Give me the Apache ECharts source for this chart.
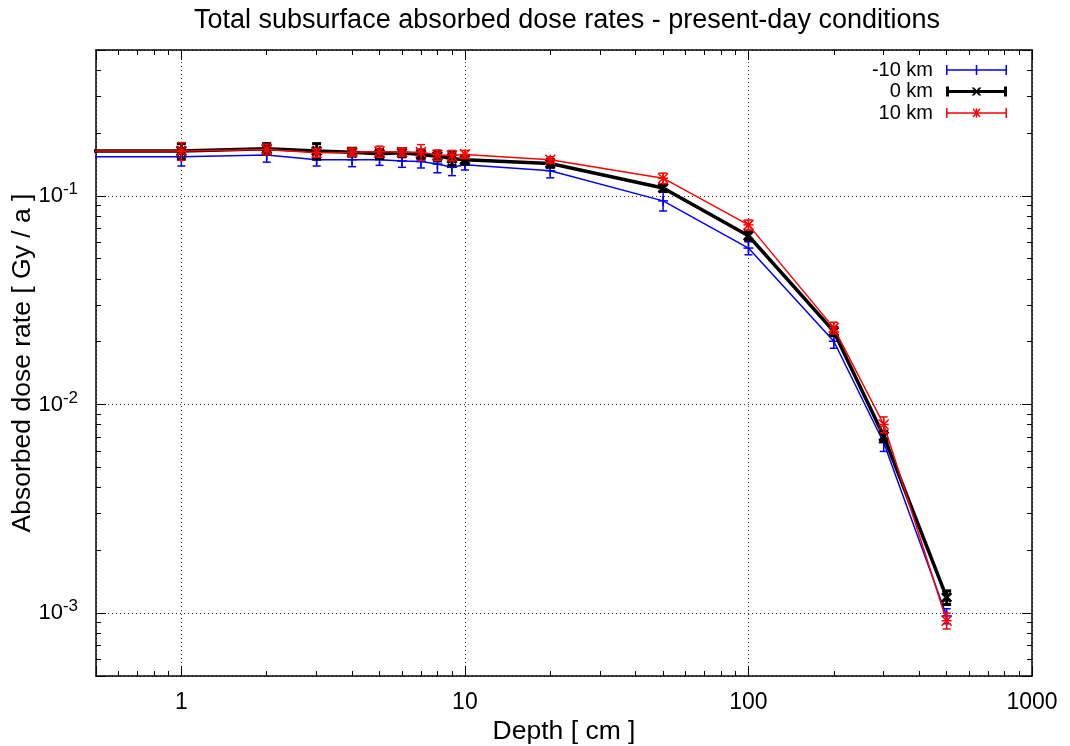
<!DOCTYPE html>
<html>
<head>
<meta charset="utf-8">
<script src="https://cdn.jsdelivr.net/npm/echarts@6/dist/echarts.min.js"></script>
<style>html,body{margin:0;padding:0;background:#fff;}#c{width:1070px;height:746px;}</style>
</head>
<body>
<div id="c"></div>
<script>
// ---- data ----
var depths = [0.1, 1, 2, 3, 4, 5, 6, 7, 8, 9, 10, 20, 50, 100, 200, 300, 500];
var doseM10 = [0.154, 0.154, 0.157, 0.149, 0.149, 0.149, 0.147, 0.146, 0.142, 0.137, 0.141, 0.132, 0.0946, 0.0562, 0.0201, 0.00656, 0.00097];
var errM10  = [0.015, 0.015, 0.012, 0.010, 0.011, 0.009, 0.010, 0.010, 0.013, 0.012, 0.008, 0.010, 0.010, 0.004, 0.0015, 0.0006, 0.00008];
var dose0   = [0.164, 0.164, 0.168, 0.164, 0.162, 0.159, 0.161, 0.158, 0.155, 0.151, 0.149, 0.143, 0.109, 0.0644, 0.0224, 0.00705, 0.00119];
var err0    = [0.014, 0.014, 0.010, 0.014, 0.007, 0.008, 0.007, 0.008, 0.008, 0.011, 0.007, 0.006, 0.004, 0.003, 0.001, 0.0004, 0.00009];
var doseP10 = [0.164, 0.164, 0.167, 0.161, 0.162, 0.163, 0.162, 0.162, 0.157, 0.156, 0.158, 0.149, 0.1215, 0.0726, 0.0233, 0.00802, 0.00092];
var errP10  = [0.016, 0.016, 0.010, 0.008, 0.007, 0.010, 0.007, 0.014, 0.009, 0.009, 0.007, 0.005, 0.007, 0.004, 0.0015, 0.0007, 0.00008];
var seriesNames = ['-10 km', '0 km', '10 km'];
var xTickValues = [1, 10, 100, 1000];
var yTickExponents = [-3, -2, -1];

var FONT = '"Liberation Sans", Arial, sans-serif';

function pts(vals) { return depths.map(function (d, i) { return [d, vals[i]]; }); }
function errPts(vals, errs) { return depths.map(function (d, i) { return [d, vals[i], errs[i]]; }); }

function makeRender(marker, color, lw, cap, msize) {
  return function (params, api) {
    var x = api.value(0), y = api.value(1), e = api.value(2);
    var c = api.coord([x, y]);
    var lo = api.coord([x, y - e]);
    var hi = api.coord([x, y + e]);
    var st = { stroke: color, lineWidth: lw, fill: null };
    var ch = [
      { type: 'line', shape: { x1: c[0], y1: lo[1], x2: c[0], y2: hi[1] }, style: st },
      { type: 'line', shape: { x1: c[0] - cap, y1: lo[1], x2: c[0] + cap, y2: lo[1] }, style: st },
      { type: 'line', shape: { x1: c[0] - cap, y1: hi[1], x2: c[0] + cap, y2: hi[1] }, style: st }
    ];
    var h = msize / 2;
    if (marker === 'plus' || marker === 'star') {
      ch.push({ type: 'line', shape: { x1: c[0] - h, y1: c[1], x2: c[0] + h, y2: c[1] }, style: st });
      ch.push({ type: 'line', shape: { x1: c[0], y1: c[1] - h, x2: c[0], y2: c[1] + h }, style: st });
    }
    if (marker === 'cross' || marker === 'star') {
      ch.push({ type: 'line', shape: { x1: c[0] - h, y1: c[1] - h, x2: c[0] + h, y2: c[1] + h }, style: st });
      ch.push({ type: 'line', shape: { x1: c[0] - h, y1: c[1] + h, x2: c[0] + h, y2: c[1] - h }, style: st });
    }
    return { type: 'group', children: ch };
  };
}

var iconBlue = 'path://M0,0h1.5v10h-1.5z M0,4.25h61v1.5h-61z M59.5,0h1.5v10h-1.5z M29.75,0h1.5v10h-1.5z';
var iconBlack = 'path://M0,0h3v10h-3z M0,3.5h61v3h-61z M58,0h3v10h-3z M25.5,1h2.6l7.4,8h-2.6z M33,1h2.5l-7.4,8h-2.6z';
var iconRed = 'path://M0,0h1.5v10h-1.5z M0,4.25h61v1.5h-61z M59.5,0h1.5v10h-1.5z M29.75,0.5h1.5v9h-1.5z M26.5,1.2l1,-0.9l7,8.2l-1,0.9z M33.5,0.3l1,0.9l-7,8.2l-1,-0.9z';

function isPow10(v) { var l = Math.log10(v); return Math.abs(l - Math.round(l)) < 1e-6; }

var axisCommon = {
  type: 'log', logBase: 10,
  axisLine: { show: true, onZero: false, lineStyle: { color: '#000', width: 1.5 } },
  axisTick: { show: true, inside: true, length: 10, lineStyle: { color: '#000', width: 1 } },
  minorTick: { show: true, splitNumber: 9, length: 5, lineStyle: { color: '#000', width: 1 } }
};

var option = {
  animation: false,
  backgroundColor: '#fff',
  title: {
    text: 'Total subsurface absorbed dose rates - present-day conditions',
    left: 562, top: 2, textAlign: 'center',
    textStyle: { fontFamily: FONT, fontSize: 27, fontWeight: 'normal', color: '#000' }
  },
  legend: {
    orient: 'vertical', right: 63, top: 60, align: 'right', padding: 0,
    itemWidth: 61, itemHeight: 10, itemGap: 1.5,
    textStyle: { fontFamily: FONT, fontSize: 20, color: '#000', lineHeight: 20, padding: [0, 8, 0, 0] },
    data: [
      { name: seriesNames[0], icon: iconBlue },
      { name: seriesNames[1], icon: iconBlack },
      { name: seriesNames[2], icon: iconRed }
    ],
    selectedMode: false
  },
  grid: { left: 96, right: 38, top: 50, bottom: 70, containLabel: false, outerBoundsMode: 'none' },
  xAxis: [
    Object.assign({}, axisCommon, {
      min: 0.5, max: 1000, position: 'bottom',
      name: 'Depth [ cm ]', nameLocation: 'middle', nameGap: 42, nameMoveOverlap: false,
      nameTextStyle: { fontFamily: FONT, fontSize: 26.5, color: '#000' },
      axisLabel: { fontFamily: FONT, fontSize: 23, color: '#000', margin: 15,
        showMinLabel: true, showMaxLabel: true,
        formatter: function (v) {
          for (var i = 0; i < xTickValues.length; i++) {
            if (Math.abs(v - xTickValues[i]) < 1e-6 * xTickValues[i]) return String(xTickValues[i]);
          }
          return '';
        } },
      splitLine: { show: true, lineStyle: { color: '#333', type: [1, 3], width: 1 } }
    }),
    Object.assign({}, axisCommon, {
      min: 0.5, max: 1000, position: 'top',
      axisLabel: { show: false }, splitLine: { show: false }
    })
  ],
  yAxis: [
    Object.assign({}, axisCommon, {
      min: 0.0005, max: 0.5, position: 'left',
      name: 'Absorbed dose rate [ Gy / a ]', nameLocation: 'middle', nameGap: 60, nameRotate: 90,
      nameMoveOverlap: false,
      nameTextStyle: { fontFamily: FONT, fontSize: 26.5, color: '#000' },
      axisLabel: {
        fontFamily: FONT, fontSize: 22, color: '#000', margin: 18,
        formatter: function (v) {
          if (!isPow10(v)) return '';
          var e = Math.round(Math.log10(v));
          if (yTickExponents.indexOf(e) < 0) return '';
          return '{b|10}{s|' + e + '}';
        },
        rich: {
          b: { fontFamily: FONT, fontSize: 22, color: '#000' },
          s: { fontFamily: FONT, fontSize: 17, color: '#000', padding: [0, 0, 13, 0] }
        }
      },
      splitLine: { show: true, lineStyle: { color: '#333', type: [1, 3], width: 1 } }
    }),
    Object.assign({}, axisCommon, {
      min: 0.0005, max: 0.5, position: 'right',
      axisLabel: { show: false }, splitLine: { show: false }
    })
  ],
  series: [
    { name: seriesNames[0] + ' line', type: 'line', data: pts(doseM10), showSymbol: false, symbol: 'none',
      lineStyle: { color: '#0000ff', width: 1.5 }, itemStyle: { color: '#0000ff' }, z: 2 },
    { name: seriesNames[0], type: 'custom', clip: true, data: errPts(doseM10, errM10), itemStyle: { color: '#0000ff' },
      renderItem: makeRender('plus', '#0000ff', 1.5, 4, 10), z: 3 },
    { name: seriesNames[1] + ' line', type: 'line', data: pts(dose0), showSymbol: false, symbol: 'none',
      lineStyle: { color: '#000', width: 3.5 }, itemStyle: { color: '#000' }, z: 4 },
    { name: seriesNames[1], type: 'custom', clip: true, data: errPts(dose0, err0), itemStyle: { color: '#000' },
      renderItem: makeRender('cross', '#000', 3, 4.5, 9), z: 5 },
    { name: seriesNames[2] + ' line', type: 'line', data: pts(doseP10), showSymbol: false, symbol: 'none',
      lineStyle: { color: '#ff0000', width: 1.5 }, itemStyle: { color: '#ff0000' }, z: 6 },
    { name: seriesNames[2], type: 'custom', clip: true, data: errPts(doseP10, errP10), itemStyle: { color: '#ff0000' },
      renderItem: makeRender('star', '#ff0000', 1.5, 4, 10), z: 7 }
  ]
};

var chart = echarts.init(document.getElementById('c'), null, { renderer: 'canvas' });
chart.setOption(option);
</script>
</body>
</html>
